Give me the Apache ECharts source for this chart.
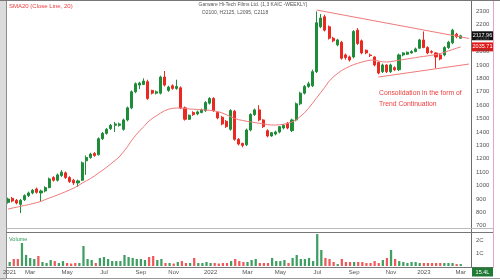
<!DOCTYPE html>
<html><head><meta charset="utf-8">
<script src="https://cdn.jsdelivr.net/npm/echarts@6.0.0/dist/echarts.min.js"></script>
<style>html,body{margin:0;padding:0;background:#fff}#c{width:500px;height:280px}</style>
</head><body><div id="c"></div>
<script>
// ---- data (weekly) ----
const firstWeek = '2021-01-25';
const slotCount = 113; // 111 weekly bars + 2 empty slots at right edge
const opens  = [875,905,890,860,895,925,945,975,945,960,985,1060,1040,1075,1095,1060,1040,1020,1040,1185,1210,1240,1230,1350,1390,1425,1450,1450,1420,1490,1580,1700,1750,1755,1775,1710,1690,1690,1810,1710,1745,1725,1730,1580,1495,1545,1535,1545,1560,1615,1650,1545,1510,1480,1420,1555,1345,1315,1305,1415,1530,1565,1490,1410,1370,1385,1400,1430,1465,1410,1490,1610,1690,1740,1745,1850,2185,2260,2185,2100,2050,2070,1975,1960,1960,2160,2080,2010,1975,1960,1920,1850,1900,1850,1880,1865,1975,1980,1990,2000,2025,2087,2030,2000,1990,1975,1975,2030,2065,2130,2100];
const closes = [900,885,870,890,925,945,965,950,960,985,1050,1040,1080,1100,1060,1030,1020,1035,1170,1210,1235,1225,1350,1390,1420,1450,1460,1460,1490,1580,1700,1760,1765,1780,1650,1690,1700,1810,1750,1735,1725,1740,1580,1495,1525,1530,1550,1565,1620,1650,1560,1505,1460,1440,1560,1345,1310,1300,1415,1530,1565,1490,1440,1370,1395,1400,1440,1450,1430,1490,1610,1690,1740,1760,1850,2215,2250,2160,2100,2080,2087,1950,1955,1937,2150,2060,1990,1990,1970,1900,1840,1900,1850,1900,1865,1975,1990,1995,2000,2020,2087,2030,1990,1995,1960,1945,2030,2070,2160,2110,2117.96];
const highs  = [910,915,900,900,935,955,975,985,970,995,1060,1070,1090,1115,1105,1070,1050,1045,1180,1225,1245,1250,1360,1400,1430,1460,1475,1470,1500,1590,1710,1770,1775,1800,1790,1715,1710,1820,1855,1745,1755,1790,1740,1590,1530,1555,1560,1575,1630,1660,1660,1555,1520,1490,1570,1565,1355,1320,1425,1540,1575,1600,1495,1420,1400,1410,1445,1460,1475,1500,1620,1700,1750,1775,1865,2300,2280,2275,2195,2110,2095,2080,1985,1970,2160,2175,2090,2015,1985,1965,1925,1910,1905,1910,1890,1985,1995,2000,2010,2030,2095,2150,2040,2010,1995,1985,2040,2080,2170,2140,2125];
const lows   = [865,875,860,795,885,915,935,940,880,950,980,1030,1030,1065,1050,1020,1005,990,1035,1080,1200,1215,1225,1340,1380,1415,1400,1440,1410,1480,1570,1690,1720,1750,1640,1680,1680,1680,1740,1700,1715,1715,1570,1485,1490,1520,1525,1540,1550,1605,1550,1495,1450,1430,1410,1335,1300,1285,1295,1405,1520,1480,1430,1360,1365,1375,1390,1420,1420,1400,1480,1600,1680,1730,1735,1840,2175,2150,2090,2070,2040,1940,1940,1925,1950,2050,1980,1980,1960,1890,1830,1840,1840,1840,1855,1855,1965,1975,1985,1995,2020,2025,1980,1985,1875,1935,1965,2020,2055,2100,2095];
const smaValues = [825,832,838,845,852,858,866,873,882,895,907,918,930,942,955,968,982,998,1019,1035,1052,1072,1094,1115,1138,1162,1188,1213,1250,1290,1335,1375,1410,1440,1475,1500,1520,1540,1558,1570,1577,1579,1578,1575,1572,1570,1568,1566,1564,1562,1558,1552,1542,1530,1515,1502,1492,1486,1480,1475,1470,1465,1460,1455,1452,1452,1454,1458,1465,1475,1490,1515,1542,1575,1615,1655,1695,1735,1778,1810,1835,1858,1875,1890,1903,1913,1922,1930,1936,1935,1930,1924,1922,1925,1930,1936,1940,1945,1950,1955,1960,1964,1968,1973,1978,1985,1995,2005,2015,2025,2035];
const volumeLakh = [31,54,54,177,85,62,54,77,31,23,46,38,23,38,23,19,23,23,154,54,46,23,62,69,54,38,38,38,85,69,62,54,54,46,69,77,46,54,23,23,19,31,38,23,23,62,23,23,31,23,23,19,23,23,38,54,38,31,31,46,54,23,23,23,62,38,38,46,23,62,85,54,54,62,38,246,123,62,54,31,15,54,31,31,31,31,31,23,23,38,23,46,62,123,54,38,31,23,31,31,23,23,23,23,23,23,23,23,23,15,15];
const upperTrend = [[75, 2310], [112, 2098]];
const lowerTrend = [[90, 1810], [112, 1907]];
const priceTickLabels = [700,800,900,1000,1100,1200,1300,1400,1500,1600,1700,1800,1900,2000,2100,2200,2300];
const volumeTickLabels = {100: '1C', 200: '2C'};
const monthNames = ['Jan','Feb','Mar','Apr','May','Jun','Jul','Aug','Sep','Oct','Nov','Dec'];
const lastPriceText = '2117.96';
const lastSmaText = '2035.71';
const lastVolumeText = '15.4L';
const titleLine1 = 'Garware Hi-Tech Films Ltd. (1,3 KAIC -WEEKLY)';
const titleLine2 = 'O2100, H2125, L2095, C2118';
const smaLegend = 'SMA20 (Close Line, 20)';
const noteLines = ['Consolidation in the form of', 'Trend Continuation'];

// ---- build ----
const dates = [];
{
  const d0 = new Date(firstWeek + 'T00:00:00Z');
  for (let i = 0; i < slotCount; i++) {
    const d = new Date(d0.getTime() + i * 7 * 86400000);
    dates.push(d.toISOString().slice(0, 10));
  }
}
const labelIdx = new Set([0]);
for (let i = 1; i < dates.length; i++) {
  const m = +dates[i].slice(5, 7), pm = +dates[i - 1].slice(5, 7);
  if (m !== pm && m % 2 === 1) labelIdx.add(i);
}
const candleData = opens.map((o, i) => [o, closes[i], lows[i], highs[i]]);
const GREEN = '#1e8c38', RED = '#ea2a22';
const volData = volumeLakh.map((v, i) => ({
  value: v,
  itemStyle: { color: closes[i] >= opens[i] ? '#3f9e62' : '#f0585a' }
}));

const chart = echarts.init(document.getElementById('c'), null, { renderer: 'canvas' });
const axisFont = { fontSize: 6, color: '#555', fontFamily: 'Liberation Sans' };
const option = {
  animation: false,
  backgroundColor: '#fff',
  grid: [
    { left: 6, right: 29, top: 8.7, height: 217.1 },
    { left: 6, right: 29, top: 233, height: 33 }
  ],
  xAxis: [
    { type: 'category', data: dates, gridIndex: 0, boundaryGap: true,
      axisLine: { show: false }, axisTick: { show: false }, axisLabel: { show: false }, splitLine: { show: false } },
    { type: 'category', data: dates, gridIndex: 1, boundaryGap: true,
      axisLine: { show: false }, axisTick: { show: false }, splitLine: { show: false },
      axisLabel: Object.assign({}, axisFont, {
        margin: 3,
        interval: (i) => labelIdx.has(i),
        formatter: (v) => { const m = +v.slice(5, 7); return m === 1 ? v.slice(0, 4) : monthNames[m - 1]; }
      }) }
  ],
  yAxis: [
    { type: 'value', gridIndex: 0, position: 'right', min: 700, max: 2320, interval: 100,
      axisLine: { show: false }, axisTick: { show: false }, splitLine: { show: false },
      axisLabel: Object.assign({}, axisFont, { margin: 5,
        formatter: (v) => priceTickLabels.indexOf(v) >= 0 ? String(v) : '' }) },
    { type: 'value', gridIndex: 1, position: 'right', min: 0, max: 254, interval: 100,
      axisLine: { show: false }, axisTick: { show: false }, splitLine: { show: false },
      axisLabel: Object.assign({}, axisFont, { margin: 5, formatter: (v) => volumeTickLabels[v] || '' }) }
  ],
  series: [
    { type: 'candlestick', xAxisIndex: 0, yAxisIndex: 0, data: candleData, barWidth: '62%',
      itemStyle: { color: GREEN, color0: RED, borderColor: GREEN, borderColor0: RED, borderWidth: 1 } },
    { type: 'line', xAxisIndex: 0, yAxisIndex: 0, data: smaValues, symbol: 'none', smooth: false,
      lineStyle: { color: '#f07a7a', width: 1 } },
    { type: 'line', xAxisIndex: 0, yAxisIndex: 0, data: upperTrend, symbol: 'none',
      lineStyle: { color: '#f07a7a', width: 1 } },
    { type: 'line', xAxisIndex: 0, yAxisIndex: 0, data: lowerTrend, symbol: 'none',
      lineStyle: { color: '#f07a7a', width: 1 } },
    { type: 'bar', xAxisIndex: 1, yAxisIndex: 1, data: volData, barWidth: '55%' }
  ]
};
chart.setOption(option);

// ---- frame, labels and value boxes ----
const yPrice = (v) => chart.convertToPixel({ yAxisIndex: 0 }, v);
const ln = (x1, y1, x2, y2, c, w) => ({ type: 'line', shape: { x1, y1, x2, y2 }, style: { stroke: c, lineWidth: w || 1 }, silent: true });
const txt = (x, y, t, c, fs, align, weight) => ({ type: 'text', x, y, style: { text: t, fill: c, fontSize: fs, fontFamily: 'Liberation Sans Narrow, Liberation Sans', align: align || 'left', verticalAlign: 'middle', fontWeight: weight || 'normal' }, silent: true });
const box = (y, fill, t, tc) => ({ type: 'group', children: [
  { type: 'rect', shape: { x: 472, y: y - 4.5, width: 21, height: 9 }, style: { fill: fill } },
  { type: 'text', x: 482.5, y: y, style: { text: t, fill: tc, fontSize: 5.5, fontFamily: 'Liberation Sans', align: 'center', verticalAlign: 'middle' } }
] });
const graphics = [
  { type: 'rect', shape: { x: 0, y: 0, width: 6, height: 280 }, style: { fill: '#dcdcdc' }, silent: true },
  ln(6.5, 0, 6.5, 278, '#8c8c8c'),
  ln(0, 0.5, 500, 0.5, '#777'),
  ln(471.5, 1, 471.5, 268, '#6d6d6d'),
  ln(493.5, 1, 493.5, 268, '#e3a6c6'),
  ln(6.5, 228.5, 493, 228.5, '#bbbbbb'),
  ln(6.5, 232.5, 493, 232.5, '#777'),
  ln(6.5, 267.5, 493, 267.5, '#777'),
  ln(0, 278.5, 500, 278.5, '#999'),
  txt(9, 6.5, smaLegend, '#f03a3a', 6),
  txt(253, 5, titleLine1, '#555', 5, 'center'),
  txt(235, 12.5, titleLine2, '#555', 5, 'center'),
  txt(9, 239, 'Volume', '#2e9a55', 5.5),
  txt(379, 93, noteLines[0], '#ee4040', 6.8),
  txt(379, 104, noteLines[1], '#ee4040', 6.8),
  box(yPrice(closes[closes.length - 1]), '#111', lastPriceText, '#fff'),
  box(yPrice(smaValues[smaValues.length - 1]), '#e01818', lastSmaText, '#fff'),
  box(272, '#1f7a35', lastVolumeText, '#fff')
];
chart.setOption({ graphic: graphics });
</script>
</body></html>
